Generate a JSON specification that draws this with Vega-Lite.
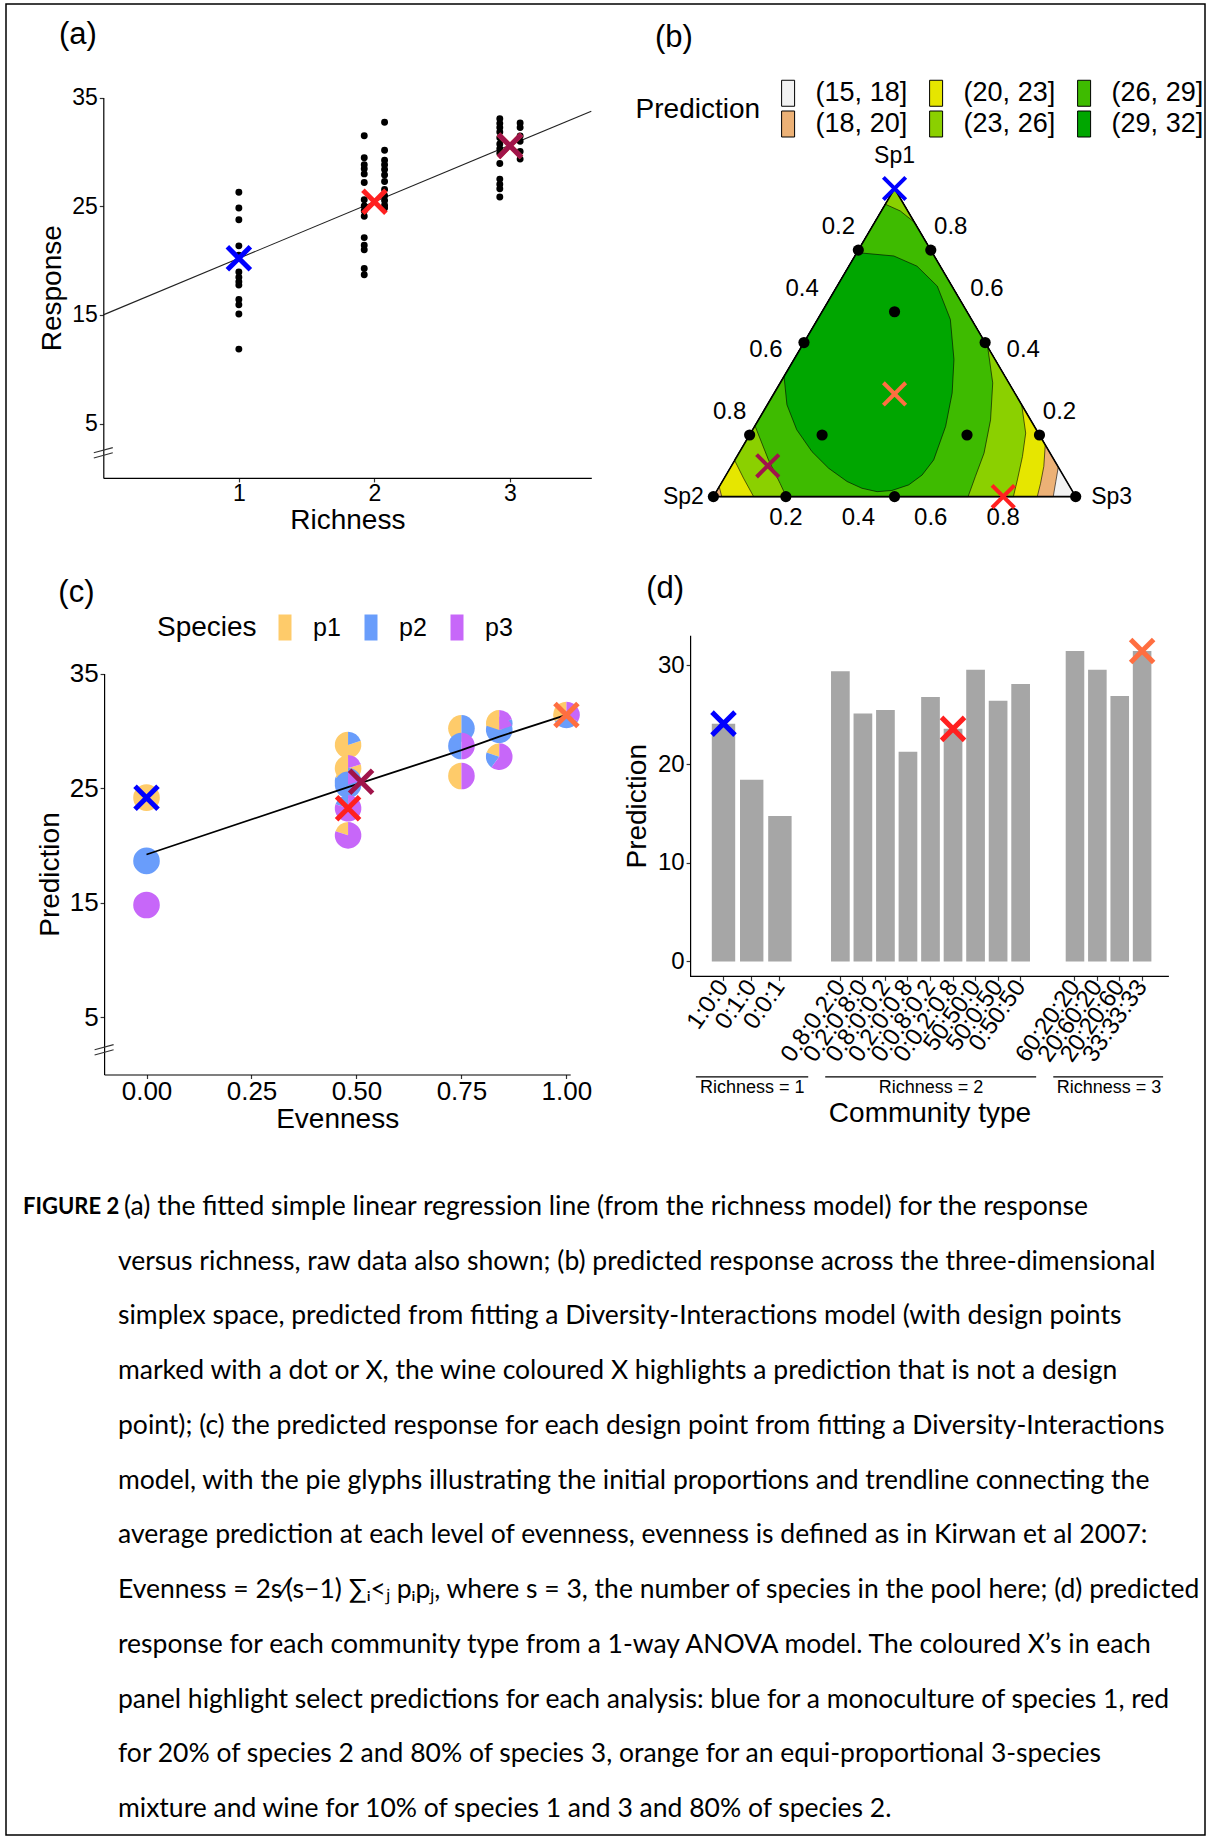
{
"$schema": "https://vega.github.io/schema/vega-lite/v6.json",
"width": 1199,
"height": 1831,
"autosize": {"type": "none"},
"padding": {"left": 6, "top": 4, "right": 4, "bottom": 3},
"background": "white",
"config": {
  "view": {"stroke": "black", "strokeWidth": 1.5},
  "font": "Liberation Sans",
  "axis": {"grid": false, "labelFont": "Liberation Sans", "titleFont": "Liberation Sans", "labelColor": "black", "titleColor": "black", "titleFontWeight": "normal", "domainColor": "black", "tickColor": "#333333", "domainWidth": 1.2, "tickWidth": 1.2, "tickSize": 4, "labelPadding": 2, "titleFontSize": 28},
  "legend": {"labelFont": "Liberation Sans", "titleFont": "Liberation Sans", "titleFontWeight": "normal", "labelColor": "black", "titleColor": "black", "padding": 0}
},
"datasets": {
  "rawA": [
    {"richness_jittered": 1, "response": 26.29}, {"richness_jittered": 1, "response": 24.83}, {"richness_jittered": 1, "response": 23.76}, {"richness_jittered": 1, "response": 21.35}, {"richness_jittered": 1, "response": 20.5}, {"richness_jittered": 1, "response": 18.94}, {"richness_jittered": 1, "response": 18.47}, {"richness_jittered": 1, "response": 18.05}, {"richness_jittered": 1, "response": 17.74}, {"richness_jittered": 1, "response": 16.41}, {"richness_jittered": 1, "response": 15.93}, {"richness_jittered": 1, "response": 15.08}, {"richness_jittered": 1, "response": 11.85},
    {"richness_jittered": 1.925, "response": 31.48}, {"richness_jittered": 1.925, "response": 29.46}, {"richness_jittered": 1.925, "response": 28.82}, {"richness_jittered": 1.925, "response": 28.44}, {"richness_jittered": 1.925, "response": 27.97}, {"richness_jittered": 1.925, "response": 27.18}, {"richness_jittered": 1.925, "response": 25.59}, {"richness_jittered": 1.925, "response": 25.02}, {"richness_jittered": 1.925, "response": 24.58}, {"richness_jittered": 1.925, "response": 24.07}, {"richness_jittered": 1.925, "response": 22.11}, {"richness_jittered": 1.925, "response": 21.41}, {"richness_jittered": 1.925, "response": 21.0}, {"richness_jittered": 1.925, "response": 19.26}, {"richness_jittered": 1.925, "response": 18.69},
    {"richness_jittered": 2.075, "response": 32.72}, {"richness_jittered": 2.075, "response": 30.15}, {"richness_jittered": 2.075, "response": 29.23}, {"richness_jittered": 2.075, "response": 28.82}, {"richness_jittered": 2.075, "response": 28.38}, {"richness_jittered": 2.075, "response": 27.87}, {"richness_jittered": 2.075, "response": 27.27}, {"richness_jittered": 2.075, "response": 26.54}, {"richness_jittered": 2.075, "response": 25.97}, {"richness_jittered": 2.075, "response": 25.53}, {"richness_jittered": 2.075, "response": 25.09}, {"richness_jittered": 2.075, "response": 24.83},
    {"richness_jittered": 2.925, "response": 33.04}, {"richness_jittered": 2.925, "response": 32.62}, {"richness_jittered": 2.925, "response": 32.24}, {"richness_jittered": 2.925, "response": 31.83}, {"richness_jittered": 2.925, "response": 31.29}, {"richness_jittered": 2.925, "response": 30.72}, {"richness_jittered": 2.925, "response": 30.28}, {"richness_jittered": 2.925, "response": 29.87}, {"richness_jittered": 2.925, "response": 28.92}, {"richness_jittered": 2.925, "response": 27.49}, {"richness_jittered": 2.925, "response": 27.02}, {"richness_jittered": 2.925, "response": 26.61}, {"richness_jittered": 2.925, "response": 25.85},
    {"richness_jittered": 3.075, "response": 32.66}, {"richness_jittered": 3.075, "response": 32.24}, {"richness_jittered": 3.075, "response": 31.45}, {"richness_jittered": 3.075, "response": 30.98}, {"richness_jittered": 3.075, "response": 30.03}, {"richness_jittered": 3.075, "response": 29.33}
  ],
  "fitA": [{"richness": 0, "fitted": 15.0}, {"richness": 3.6, "fitted": 33.74}],
  "highlightA": [
    {"richness": 1, "prediction": 20.2, "highlight": "Sp1 monoculture"},
    {"richness": 2, "prediction": 25.4, "highlight": "0:0.2:0.8"},
    {"richness": 3, "prediction": 30.55, "highlight": "33:33:33"},
    {"richness": 3, "prediction": 30.55, "highlight": "0.1:0.8:0.1"}
  ],
  "contours": [
    {"band": "(15, 18]", "x": 0, "y": 0}, {"band": "(15, 18]", "x": 1, "y": 0}, {"band": "(15, 18]", "x": 0.5, "y": 1}, {"band": "(15, 18]", "x": 0, "y": 0},
    {"band": "(18, 20]", "x": 0, "y": 0}, {"band": "(18, 20]", "x": 0.938, "y": 0}, {"band": "(18, 20]", "x": 0.945, "y": 0.048}, {"band": "(18, 20]", "x": 0.952, "y": 0.096}, {"band": "(18, 20]", "x": 0.5, "y": 1}, {"band": "(18, 20]", "x": 0, "y": 0},
    {"band": "(20, 23]", "x": 0.023, "y": 0}, {"band": "(20, 23]", "x": 0.894, "y": 0}, {"band": "(20, 23]", "x": 0.903, "y": 0.043}, {"band": "(20, 23]", "x": 0.912, "y": 0.098}, {"band": "(20, 23]", "x": 0.916, "y": 0.168}, {"band": "(20, 23]", "x": 0.5, "y": 1}, {"band": "(20, 23]", "x": 0.016, "y": 0.032}, {"band": "(20, 23]", "x": 0.023, "y": 0},
    {"band": "(23, 26]", "x": 0.111, "y": 0}, {"band": "(23, 26]", "x": 0.828, "y": 0}, {"band": "(23, 26]", "x": 0.839, "y": 0.054}, {"band": "(23, 26]", "x": 0.853, "y": 0.13}, {"band": "(23, 26]", "x": 0.862, "y": 0.206}, {"band": "(23, 26]", "x": 0.851, "y": 0.298}, {"band": "(23, 26]", "x": 0.5, "y": 1}, {"band": "(23, 26]", "x": 0.058, "y": 0.119}, {"band": "(23, 26]", "x": 0.083, "y": 0.06}, {"band": "(23, 26]", "x": 0.111, "y": 0},
    {"band": "(26, 29]", "x": 0.201, "y": 0}, {"band": "(26, 29]", "x": 0.703, "y": 0}, {"band": "(26, 29]", "x": 0.723, "y": 0.065}, {"band": "(26, 29]", "x": 0.747, "y": 0.141}, {"band": "(26, 29]", "x": 0.765, "y": 0.249}, {"band": "(26, 29]", "x": 0.771, "y": 0.369}, {"band": "(26, 29]", "x": 0.757, "y": 0.486}, {"band": "(26, 29]", "x": 0.556, "y": 0.889}, {"band": "(26, 29]", "x": 0.516, "y": 0.927}, {"band": "(26, 29]", "x": 0.4745, "y": 0.949}, {"band": "(26, 29]", "x": 0.115, "y": 0.229}, {"band": "(26, 29]", "x": 0.152, "y": 0.119}, {"band": "(26, 29]", "x": 0.184, "y": 0.043}, {"band": "(26, 29]", "x": 0.201, "y": 0},
    {"band": "(29, 32]", "x": 0.396, "y": 0.792}, {"band": "(29, 32]", "x": 0.498, "y": 0.781}, {"band": "(29, 32]", "x": 0.562, "y": 0.748}, {"band": "(29, 32]", "x": 0.618, "y": 0.683}, {"band": "(29, 32]", "x": 0.654, "y": 0.575}, {"band": "(29, 32]", "x": 0.664, "y": 0.445}, {"band": "(29, 32]", "x": 0.659, "y": 0.336}, {"band": "(29, 32]", "x": 0.641, "y": 0.228}, {"band": "(29, 32]", "x": 0.608, "y": 0.119}, {"band": "(29, 32]", "x": 0.576, "y": 0.07}, {"band": "(29, 32]", "x": 0.539, "y": 0.038}, {"band": "(29, 32]", "x": 0.493, "y": 0.02}, {"band": "(29, 32]", "x": 0.452, "y": 0.016}, {"band": "(29, 32]", "x": 0.41, "y": 0.027}, {"band": "(29, 32]", "x": 0.369, "y": 0.049}, {"band": "(29, 32]", "x": 0.318, "y": 0.092}, {"band": "(29, 32]", "x": 0.272, "y": 0.146}, {"band": "(29, 32]", "x": 0.23, "y": 0.217}, {"band": "(29, 32]", "x": 0.203, "y": 0.298}, {"band": "(29, 32]", "x": 0.195, "y": 0.39}, {"band": "(29, 32]", "x": 0.396, "y": 0.792}
  ],
  "simplex": [{"x": 0, "y": 0}, {"x": 1, "y": 0}, {"x": 0.5, "y": 1}, {"x": 0, "y": 0}],
  "designB": [
    {"x": 0, "y": 0}, {"x": 1, "y": 0}, {"x": 0.4, "y": 0.8}, {"x": 0.25, "y": 0.5}, {"x": 0.1, "y": 0.2}, {"x": 0.6, "y": 0.8}, {"x": 0.75, "y": 0.5}, {"x": 0.9, "y": 0.2}, {"x": 0.2, "y": 0}, {"x": 0.5, "y": 0}, {"x": 0.5, "y": 0.6}, {"x": 0.3, "y": 0.2}, {"x": 0.7, "y": 0.2}
  ],
  "ternLabels": [
    {"edge": "left", "x": 0.4, "y": 0.8, "label": "0.2"}, {"edge": "left", "x": 0.3, "y": 0.6, "label": "0.4"}, {"edge": "left", "x": 0.2, "y": 0.4, "label": "0.6"}, {"edge": "left", "x": 0.1, "y": 0.2, "label": "0.8"},
    {"edge": "right", "x": 0.6, "y": 0.8, "label": "0.8"}, {"edge": "right", "x": 0.7, "y": 0.6, "label": "0.6"}, {"edge": "right", "x": 0.8, "y": 0.4, "label": "0.4"}, {"edge": "right", "x": 0.9, "y": 0.2, "label": "0.2"},
    {"edge": "base", "x": 0.2, "y": 0, "label": "0.2"}, {"edge": "base", "x": 0.4, "y": 0, "label": "0.4"}, {"edge": "base", "x": 0.6, "y": 0, "label": "0.6"}, {"edge": "base", "x": 0.8, "y": 0, "label": "0.8"}
  ],
  "vertexLabels": [{"vertex": "Sp1", "x": 0.5, "y": 1}, {"vertex": "Sp2", "x": 0, "y": 0}, {"vertex": "Sp3", "x": 1, "y": 0}],
  "highlightB": [
    {"x": 0.5, "y": 1, "highlight": "Sp1 monoculture"},
    {"x": 0.8, "y": 0, "highlight": "0:0.2:0.8"},
    {"x": 0.5, "y": 0.3333, "highlight": "33:33:33"},
    {"x": 0.15, "y": 0.1, "highlight": "0.1:0.8:0.1"}
  ],
  "slicesC": [
    {"pie": "1:0:0", "evenness": 0, "prediction": 24.17, "species": "p1", "share": 1},
    {"pie": "0:1:0", "evenness": 0, "prediction": 18.65, "species": "p2", "share": 1},
    {"pie": "0:0:1", "evenness": 0, "prediction": 14.8, "species": "p3", "share": 1},
    {"pie": "0.8:0.2:0", "evenness": 0.48, "prediction": 28.77, "species": "p1", "share": 0.8},
    {"pie": "0.8:0.2:0", "evenness": 0.48, "prediction": 28.77, "species": "p2", "share": 0.2},
    {"pie": "0.8:0:0.2", "evenness": 0.48, "prediction": 26.73, "species": "p1", "share": 0.8},
    {"pie": "0.8:0:0.2", "evenness": 0.48, "prediction": 26.73, "species": "p3", "share": 0.2},
    {"pie": "0.2:0.8:0", "evenness": 0.48, "prediction": 25.6, "species": "p1", "share": 0.2},
    {"pie": "0.2:0.8:0", "evenness": 0.48, "prediction": 25.6, "species": "p2", "share": 0.8},
    {"pie": "0:0.8:0.2", "evenness": 0.48, "prediction": 25.3, "species": "p2", "share": 0.8},
    {"pie": "0:0.8:0.2", "evenness": 0.48, "prediction": 25.3, "species": "p3", "share": 0.2},
    {"pie": "0:0.2:0.8", "evenness": 0.48, "prediction": 23.24, "species": "p2", "share": 0.2},
    {"pie": "0:0.2:0.8", "evenness": 0.48, "prediction": 23.24, "species": "p3", "share": 0.8},
    {"pie": "0.2:0:0.8", "evenness": 0.48, "prediction": 20.88, "species": "p1", "share": 0.2},
    {"pie": "0.2:0:0.8", "evenness": 0.48, "prediction": 20.88, "species": "p3", "share": 0.8},
    {"pie": "50:50:0", "evenness": 0.75, "prediction": 30.22, "species": "p1", "share": 0.5},
    {"pie": "50:50:0", "evenness": 0.75, "prediction": 30.22, "species": "p2", "share": 0.5},
    {"pie": "0:50:50", "evenness": 0.75, "prediction": 28.68, "species": "p2", "share": 0.5},
    {"pie": "0:50:50", "evenness": 0.75, "prediction": 28.68, "species": "p3", "share": 0.5},
    {"pie": "50:0:50", "evenness": 0.75, "prediction": 26.06, "species": "p1", "share": 0.5},
    {"pie": "50:0:50", "evenness": 0.75, "prediction": 26.06, "species": "p3", "share": 0.5},
    {"pie": "60:20:20", "evenness": 0.84, "prediction": 30.66, "species": "p1", "share": 0.6},
    {"pie": "60:20:20", "evenness": 0.84, "prediction": 30.66, "species": "p2", "share": 0.2},
    {"pie": "60:20:20", "evenness": 0.84, "prediction": 30.66, "species": "p3", "share": 0.2},
    {"pie": "20:60:20", "evenness": 0.84, "prediction": 30.08, "species": "p1", "share": 0.2},
    {"pie": "20:60:20", "evenness": 0.84, "prediction": 30.08, "species": "p2", "share": 0.6},
    {"pie": "20:60:20", "evenness": 0.84, "prediction": 30.08, "species": "p3", "share": 0.2},
    {"pie": "20:20:60", "evenness": 0.84, "prediction": 27.75, "species": "p1", "share": 0.2},
    {"pie": "20:20:60", "evenness": 0.84, "prediction": 27.75, "species": "p2", "share": 0.2},
    {"pie": "20:20:60", "evenness": 0.84, "prediction": 27.75, "species": "p3", "share": 0.6},
    {"pie": "33:33:33", "evenness": 1, "prediction": 31.39, "species": "p1", "share": 0.3333},
    {"pie": "33:33:33", "evenness": 1, "prediction": 31.39, "species": "p2", "share": 0.3333},
    {"pie": "33:33:33", "evenness": 1, "prediction": 31.39, "species": "p3", "share": 0.3334}
  ],
  "highlightC": [
    {"evenness": 0, "prediction": 24.17, "highlight": "Sp1 monoculture"},
    {"evenness": 0.48, "prediction": 23.24, "highlight": "0:0.2:0.8"},
    {"evenness": 1, "prediction": 31.39, "highlight": "33:33:33"},
    {"evenness": 0.511, "prediction": 25.56, "highlight": "0.1:0.8:0.1"}
  ],
  "barsD": [
    {"richness": 1, "community": "1:0:0", "prediction": 24.09, "highlight": "Sp1 monoculture"},
    {"richness": 1, "community": "0:1:0", "prediction": 18.41, "highlight": null},
    {"richness": 1, "community": "0:0:1", "prediction": 14.72, "highlight": null},
    {"richness": 2, "community": "0.8:0.2:0", "prediction": 29.39, "highlight": null},
    {"richness": 2, "community": "0.2:0.8:0", "prediction": 25.12, "highlight": null},
    {"richness": 2, "community": "0.8:0:0.2", "prediction": 25.47, "highlight": null},
    {"richness": 2, "community": "0.2:0:0.8", "prediction": 21.24, "highlight": null},
    {"richness": 2, "community": "0:0.8:0.2", "prediction": 26.8, "highlight": null},
    {"richness": 2, "community": "0:0.2:0.8", "prediction": 23.56, "highlight": "0:0.2:0.8"},
    {"richness": 2, "community": "50:50:0", "prediction": 29.55, "highlight": null},
    {"richness": 2, "community": "50:0:50", "prediction": 26.42, "highlight": null},
    {"richness": 2, "community": "0:50:50", "prediction": 28.1, "highlight": null},
    {"richness": 3, "community": "60:20:20", "prediction": 31.45, "highlight": null},
    {"richness": 3, "community": "20:60:20", "prediction": 29.55, "highlight": null},
    {"richness": 3, "community": "20:20:60", "prediction": 26.88, "highlight": null},
    {"richness": 3, "community": "33:33:33", "prediction": 31.45, "highlight": "33:33:33"}
  ],
  "groupsD": [
    {"richness": 1, "first": "1:0:0", "last": "0:0:1"},
    {"richness": 2, "first": "0.8:0.2:0", "last": "0:50:50"},
    {"richness": 3, "first": "60:20:20", "last": "33:33:33"}
  ],
  "caption": [
    {"line": 1, "part": "label", "text": "FIGURE 2"},
    {"line": 1, "part": "body", "text": "(a) the fitted simple linear regression line (from the richness model) for the response"},
    {"line": 2, "part": "body", "text": "versus richness, raw data also shown; (b) predicted response across the three-dimensional"},
    {"line": 3, "part": "body", "text": "simplex space, predicted from fitting a Diversity-Interactions model (with design points"},
    {"line": 4, "part": "body", "text": "marked with a dot or X, the wine coloured X highlights a prediction that is not a design"},
    {"line": 5, "part": "body", "text": "point); (c) the predicted response for each design point from fitting a Diversity-Interactions"},
    {"line": 6, "part": "body", "text": "model, with the pie glyphs illustrating the initial proportions and trendline connecting the"},
    {"line": 7, "part": "body", "text": "average prediction at each level of evenness, evenness is defined as in Kirwan et al 2007:"},
    {"line": 8, "part": "body", "text": "Evenness = 2s⁄(s−1) ∑ᵢ<ⱼ pᵢpⱼ, where s = 3, the number of species in the pool here;  (d) predicted"},
    {"line": 9, "part": "body", "text": "response for each community type from a 1-way ANOVA model. The coloured X’s in each"},
    {"line": 10, "part": "body", "text": "panel highlight select predictions for each analysis: blue for a monoculture of species 1, red"},
    {"line": 11, "part": "body", "text": "for 20% of species 2 and 80% of species 3, orange for an equi-proportional 3-species"},
    {"line": 12, "part": "body", "text": "mixture and wine for 10% of species 1 and 3 and 80% of species 2."}
  ]
},
"layer": [
  {
    "layer": [
      {
        "data": {"name": "fitA"},
        "mark": {"type": "line", "color": "#222222", "strokeWidth": 1.1},
        "encoding": {
          "x": {"field": "richness", "type": "quantitative", "scale": {"domain": [0, 3.6], "range": [97.3, 585.3], "nice": false, "zero": false}, "axis": {"orient": "bottom", "offset": -1357.1, "values": [1, 2, 3], "format": "d", "title": "Richness", "labelFontSize": 23, "labelPadding": 1, "titlePadding": 1}},
          "y": {"field": "fitted", "type": "quantitative", "scale": {"domain": [0, 35], "range": [473.9, 93.5], "nice": false, "zero": false}, "axis": {"orient": "left", "offset": -97.3, "values": [5, 15, 25, 35], "title": "Response", "labelFontSize": 23, "titlePadding": 5}}
        }
      },
      {
        "data": {"name": "rawA"},
        "mark": {"type": "circle", "size": 48, "color": "black", "opacity": 1},
        "encoding": {
          "x": {"field": "richness_jittered", "type": "quantitative"},
          "y": {"field": "response", "type": "quantitative"}
        }
      },
      {
        "data": {"name": "highlightA"},
        "mark": {"type": "point", "shape": "M-1,-1L1,1M1,-1L-1,1", "size": 529, "filled": false, "strokeWidth": 5, "opacity": 1},
        "encoding": {
          "x": {"field": "richness", "type": "quantitative"},
          "y": {"field": "prediction", "type": "quantitative"},
          "stroke": {"field": "highlight", "type": "nominal", "scale": {"domain": ["Sp1 monoculture", "0:0.2:0.8", "33:33:33", "0.1:0.8:0.1"], "range": ["#0000FF", "#FF2020", "#FF6E40", "#A0144A"]}, "legend": null}
        }
      },
      {
        "data": {"values": [{}]},
        "mark": {"type": "point", "shape": "M-1,0L1,-0.54M-1,0.55L1,0", "size": 361, "filled": false, "stroke": "#333333", "strokeWidth": 1.2, "opacity": 1},
        "encoding": {"x": {"datum": 0}, "y": {"datum": 2.31}}
      },
      {
        "data": {"values": [{}]},
        "mark": {"type": "text", "text": "(a)", "fontSize": 31, "font": "Liberation Sans", "align": "center", "baseline": "middle"},
        "encoding": {"x": {"datum": -0.187}, "y": {"datum": 40.75}}
      }
    ]
  },
  {
    "layer": [
      {
        "data": {"name": "contours"},
        "transform": [{"filter": "datum.band === '(15, 18]'"}],
        "mark": {"type": "line", "filled": true, "stroke": "black", "strokeWidth": 0.6},
        "encoding": {
          "x": {"field": "x", "type": "quantitative", "scale": {"domain": [0, 1], "range": [707.4, 1069.7], "nice": false, "zero": false}, "axis": null},
          "y": {"field": "y", "type": "quantitative", "scale": {"domain": [0, 1], "range": [492.6, 184.5], "nice": false, "zero": false}, "axis": null},
          "color": {"field": "band", "type": "nominal", "scale": {"domain": ["(15, 18]", "(18, 20]", "(20, 23]", "(23, 26]", "(26, 29]", "(29, 32]"], "range": ["#F2F2F2", "#ECB176", "#E6E600", "#8BD000", "#3EBB00", "#00A600"]},
            "legend": {"orient": "none", "legendX": 629.6, "legendY": 75.5, "columns": 3, "title": "Prediction", "titleOrient": "left", "titleAnchor": "middle", "titleFontSize": 28, "titlePadding": 14, "labelFontSize": 27, "labelOffset": 14, "columnPadding": 15, "rowPadding": 0, "symbolType": "M-0.5,-1H0.5V1H-0.5Z", "symbolSize": 676, "symbolStrokeColor": "black", "symbolStrokeWidth": 1}},
          "order": {"value": null}
        }
      },
      {
        "data": {"name": "contours"},
        "transform": [{"filter": "datum.band === '(18, 20]'"}],
        "mark": {"type": "line", "filled": true, "stroke": "black", "strokeWidth": 0.6},
        "encoding": {"x": {"field": "x", "type": "quantitative"}, "y": {"field": "y", "type": "quantitative"}, "color": {"field": "band", "type": "nominal"}, "order": {"value": null}}
      },
      {
        "data": {"name": "contours"},
        "transform": [{"filter": "datum.band === '(20, 23]'"}],
        "mark": {"type": "line", "filled": true, "stroke": "black", "strokeWidth": 0.6},
        "encoding": {"x": {"field": "x", "type": "quantitative"}, "y": {"field": "y", "type": "quantitative"}, "color": {"field": "band", "type": "nominal"}, "order": {"value": null}}
      },
      {
        "data": {"name": "contours"},
        "transform": [{"filter": "datum.band === '(23, 26]'"}],
        "mark": {"type": "line", "filled": true, "stroke": "black", "strokeWidth": 0.6},
        "encoding": {"x": {"field": "x", "type": "quantitative"}, "y": {"field": "y", "type": "quantitative"}, "color": {"field": "band", "type": "nominal"}, "order": {"value": null}}
      },
      {
        "data": {"name": "contours"},
        "transform": [{"filter": "datum.band === '(26, 29]'"}],
        "mark": {"type": "line", "filled": true, "stroke": "black", "strokeWidth": 0.6},
        "encoding": {"x": {"field": "x", "type": "quantitative"}, "y": {"field": "y", "type": "quantitative"}, "color": {"field": "band", "type": "nominal"}, "order": {"value": null}}
      },
      {
        "data": {"name": "contours"},
        "transform": [{"filter": "datum.band === '(29, 32]'"}],
        "mark": {"type": "line", "filled": true, "stroke": "black", "strokeWidth": 0.6},
        "encoding": {"x": {"field": "x", "type": "quantitative"}, "y": {"field": "y", "type": "quantitative"}, "color": {"field": "band", "type": "nominal"}, "order": {"value": null}}
      },
      {
        "data": {"name": "simplex"},
        "mark": {"type": "line", "color": "black", "strokeWidth": 1.6},
        "encoding": {"x": {"field": "x", "type": "quantitative"}, "y": {"field": "y", "type": "quantitative"}, "order": {"value": null}}
      },
      {
        "data": {"name": "designB"},
        "mark": {"type": "circle", "size": 125, "color": "black", "opacity": 1},
        "encoding": {"x": {"field": "x", "type": "quantitative"}, "y": {"field": "y", "type": "quantitative"}}
      },
      {
        "data": {"name": "ternLabels"},
        "transform": [{"filter": "datum.edge === 'left'"}],
        "mark": {"type": "text", "fontSize": 24, "align": "center", "baseline": "middle", "dx": -20, "dy": -23},
        "encoding": {"x": {"field": "x", "type": "quantitative"}, "y": {"field": "y", "type": "quantitative"}, "text": {"field": "label"}}
      },
      {
        "data": {"name": "ternLabels"},
        "transform": [{"filter": "datum.edge === 'right'"}],
        "mark": {"type": "text", "fontSize": 24, "align": "center", "baseline": "middle", "dx": 20, "dy": -23},
        "encoding": {"x": {"field": "x", "type": "quantitative"}, "y": {"field": "y", "type": "quantitative"}, "text": {"field": "label"}}
      },
      {
        "data": {"name": "ternLabels"},
        "transform": [{"filter": "datum.edge === 'base'"}],
        "mark": {"type": "text", "fontSize": 24, "align": "center", "baseline": "middle", "dy": 21},
        "encoding": {"x": {"field": "x", "type": "quantitative"}, "y": {"field": "y", "type": "quantitative"}, "text": {"field": "label"}}
      },
      {
        "data": {"name": "vertexLabels"},
        "transform": [{"filter": "datum.vertex === 'Sp1'"}],
        "mark": {"type": "text", "fontSize": 23, "align": "center", "baseline": "middle", "dy": -33},
        "encoding": {"x": {"field": "x", "type": "quantitative"}, "y": {"field": "y", "type": "quantitative"}, "text": {"field": "vertex"}}
      },
      {
        "data": {"name": "vertexLabels"},
        "transform": [{"filter": "datum.vertex === 'Sp2'"}],
        "mark": {"type": "text", "fontSize": 23, "align": "center", "baseline": "middle", "dx": -30},
        "encoding": {"x": {"field": "x", "type": "quantitative"}, "y": {"field": "y", "type": "quantitative"}, "text": {"field": "vertex"}}
      },
      {
        "data": {"name": "vertexLabels"},
        "transform": [{"filter": "datum.vertex === 'Sp3'"}],
        "mark": {"type": "text", "fontSize": 23, "align": "center", "baseline": "middle", "dx": 36},
        "encoding": {"x": {"field": "x", "type": "quantitative"}, "y": {"field": "y", "type": "quantitative"}, "text": {"field": "vertex"}}
      },
      {
        "data": {"name": "highlightB"},
        "mark": {"type": "point", "shape": "M-1,-1L1,1M1,-1L-1,1", "size": 500, "filled": false, "strokeWidth": 4, "opacity": 1},
        "encoding": {"x": {"field": "x", "type": "quantitative"}, "y": {"field": "y", "type": "quantitative"}, "stroke": {"field": "highlight", "type": "nominal", "legend": null}}
      },
      {
        "data": {"values": [{}]},
        "mark": {"type": "text", "text": "(b)", "fontSize": 31, "align": "center", "baseline": "middle"},
        "encoding": {"x": {"datum": -0.109}, "y": {"datum": 1.489}}
      }
    ]
  },
  {
    "layer": [
      {
        "data": {"name": "slicesC"},
        "transform": [{"stack": "share", "groupby": ["pie"], "sort": [{"field": "species", "order": "descending"}], "offset": "normalize", "as": ["t0", "t1"]}],
        "mark": {"type": "arc", "outerRadius": 13.3, "innerRadius": 0},
        "encoding": {
          "x": {"field": "evenness", "type": "quantitative", "scale": {"domain": [-0.101, 1.009], "range": [98.1, 564.2], "nice": false, "zero": false}, "axis": {"orient": "bottom", "offset": -760.5, "values": [0, 0.25, 0.5, 0.75, 1], "format": ".2f", "title": "Evenness", "labelFontSize": 26, "labelPadding": 0, "titlePadding": 1}},
          "y": {"field": "prediction", "type": "quantitative", "scale": {"domain": [0, 35], "range": [1070.5, 669.6], "nice": false, "zero": false}, "axis": {"orient": "left", "offset": -98.1, "values": [5, 15, 25, 35], "title": "Prediction", "labelFontSize": 26, "titlePadding": 5}},
          "theta": {"field": "t0", "type": "quantitative", "scale": {"domain": [0, 1], "range": [0, 6.283185]}, "stack": null},
          "theta2": {"field": "t1"},
          "color": {"field": "species", "type": "nominal", "scale": {"domain": ["p1", "p2", "p3"], "range": ["#FECB6A", "#699DFB", "#C767F9"]},
            "legend": {"orient": "none", "legendX": 151, "legendY": 610.5, "direction": "horizontal", "title": "Species", "titleOrient": "left", "titleAnchor": "middle", "titleFontSize": 28, "titlePadding": 15, "labelFontSize": 25, "labelOffset": 15, "columnPadding": 17, "symbolType": "M-0.5,-1H0.5V1H-0.5Z", "symbolSize": 676, "symbolStrokeWidth": 0}}
        }
      },
      {
        "data": {"name": "slicesC"},
        "transform": [
          {"aggregate": [{"op": "mean", "field": "prediction", "as": "pie_prediction"}], "groupby": ["pie", "evenness"]},
          {"aggregate": [{"op": "mean", "field": "pie_prediction", "as": "average_prediction"}], "groupby": ["evenness"]}
        ],
        "mark": {"type": "line", "color": "black", "strokeWidth": 1.8},
        "encoding": {"x": {"field": "evenness", "type": "quantitative"}, "y": {"field": "average_prediction", "type": "quantitative"}}
      },
      {
        "data": {"name": "highlightC"},
        "mark": {"type": "point", "shape": "M-1,-1L1,1M1,-1L-1,1", "size": 529, "filled": false, "strokeWidth": 5, "opacity": 1},
        "encoding": {"x": {"field": "evenness", "type": "quantitative"}, "y": {"field": "prediction", "type": "quantitative"}, "stroke": {"field": "highlight", "type": "nominal", "legend": null}}
      },
      {
        "data": {"values": [{}]},
        "mark": {"type": "point", "shape": "M-1,0L1,-0.54M-1,0.55L1,0", "size": 361, "filled": false, "stroke": "#333333", "strokeWidth": 1.2, "opacity": 1},
        "encoding": {"x": {"datum": -0.101}, "y": {"datum": 2.16}}
      },
      {
        "data": {"values": [{}]},
        "mark": {"type": "text", "text": "(c)", "fontSize": 31, "align": "center", "baseline": "middle"},
        "encoding": {"x": {"datum": -0.167}, "y": {"datum": 42.06}}
      }
    ]
  },
  {
    "resolve": {"scale": {"x": "independent"}, "axis": {"x": "independent"}},
    "layer": [
      {
        "data": {"values": [{}]},
        "layer": [
          {
            "mark": {"type": "rule", "color": "black", "strokeWidth": 1.2},
            "encoding": {
              "x": {"datum": 0, "type": "quantitative", "scale": {"domain": [0, 1], "range": [684.1, 1162.9], "nice": false, "zero": false}, "axis": {"orient": "bottom", "offset": -858.6, "domain": false, "ticks": false, "labels": false, "title": "Community type", "titleY": 137.3, "titleBaseline": "middle"}},
              "x2": {"datum": 1},
              "y": {"datum": -1.52, "type": "quantitative", "scale": {"domain": [-1.52, 33.05], "range": [972.4, 631.2], "nice": false, "zero": false}, "axis": {"orient": "left", "offset": -684.1, "values": [0, 10, 20, 30], "title": "Prediction", "labelFontSize": 24, "titlePadding": 6}}
            }
          },
          {
            "mark": {"type": "text", "text": "(d)", "fontSize": 31, "align": "center", "baseline": "middle"},
            "encoding": {"x": {"datum": -0.052}, "y": {"datum": 37.74}}
          }
        ]
      },
      {
        "layer": [
          {
            "data": {"name": "barsD"},
            "transform": [{"filter": "datum.richness === 1"}],
            "mark": {"type": "bar", "color": "#A6A6A6"},
            "encoding": {
              "x": {"field": "community", "type": "nominal", "sort": null, "scale": {"type": "band", "domain": ["1:0:0", "0:1:0", "0:0:1"], "range": [703.4, 788.0], "paddingInner": 0.17, "paddingOuter": 0.085}, "axis": {"orient": "bottom", "offset": -858.6, "domain": false, "labelAngle": -55, "labelAlign": "right", "labelBaseline": "middle", "labelFontSize": 24, "title": "Richness = 1", "titleFontSize": 18, "titleY": 111, "titleBaseline": "middle"}},
              "y": {"field": "prediction", "type": "quantitative"}
            }
          },
          {
            "data": {"name": "groupsD"},
            "transform": [{"filter": "datum.richness === 1"}],
            "mark": {"type": "rule", "color": "black", "strokeWidth": 1.3},
            "encoding": {"x": {"field": "first", "type": "nominal", "bandPosition": -0.68}, "x2": {"field": "last", "bandPosition": 1.71}, "y": {"datum": -11.7}}
          },
          {
            "data": {"name": "barsD"},
            "transform": [{"filter": "datum.richness === 1 && datum.highlight != null"}],
            "mark": {"type": "point", "shape": "M-1,-1L1,1M1,-1L-1,1", "size": 529, "filled": false, "strokeWidth": 5, "opacity": 1},
            "encoding": {"x": {"field": "community", "type": "nominal"}, "y": {"field": "prediction", "type": "quantitative"}, "stroke": {"field": "highlight", "type": "nominal", "legend": null}}
          }
        ]
      },
      {
        "layer": [
          {
            "data": {"name": "barsD"},
            "transform": [{"filter": "datum.richness === 2"}],
            "mark": {"type": "bar", "color": "#A6A6A6"},
            "encoding": {
              "x": {"field": "community", "type": "nominal", "sort": null, "scale": {"type": "band", "domain": ["0.8:0.2:0", "0.2:0.8:0", "0.8:0:0.2", "0.2:0:0.8", "0:0.8:0.2", "0:0.2:0.8", "50:50:0", "50:0:50", "0:50:50"], "range": [823.1, 1025.9], "paddingInner": 0.17, "paddingOuter": 0.085}, "axis": {"orient": "bottom", "offset": -858.6, "domain": false, "labelAngle": -55, "labelAlign": "right", "labelBaseline": "middle", "labelFontSize": 24, "title": "Richness = 2", "titleFontSize": 18, "titleY": 111, "titleBaseline": "middle"}},
              "y": {"field": "prediction", "type": "quantitative"}
            }
          },
          {
            "data": {"name": "groupsD"},
            "transform": [{"filter": "datum.richness === 2"}],
            "mark": {"type": "rule", "color": "black", "strokeWidth": 1.3},
            "encoding": {"x": {"field": "first", "type": "nominal", "bandPosition": -0.31}, "x2": {"field": "last", "bandPosition": 1.33}, "y": {"datum": -11.7}}
          },
          {
            "data": {"name": "barsD"},
            "transform": [{"filter": "datum.richness === 2 && datum.highlight != null"}],
            "mark": {"type": "point", "shape": "M-1,-1L1,1M1,-1L-1,1", "size": 529, "filled": false, "strokeWidth": 5, "opacity": 1},
            "encoding": {"x": {"field": "community", "type": "nominal"}, "y": {"field": "prediction", "type": "quantitative"}, "stroke": {"field": "highlight", "type": "nominal", "legend": null}}
          }
        ]
      },
      {
        "layer": [
          {
            "data": {"name": "barsD"},
            "transform": [{"filter": "datum.richness === 3"}],
            "mark": {"type": "bar", "color": "#A6A6A6"},
            "encoding": {
              "x": {"field": "community", "type": "nominal", "sort": null, "scale": {"type": "band", "domain": ["60:20:20", "20:60:20", "20:20:60", "33:33:33"], "range": [1057.8, 1147.3], "paddingInner": 0.17, "paddingOuter": 0.085}, "axis": {"orient": "bottom", "offset": -858.6, "domain": false, "labelAngle": -55, "labelAlign": "right", "labelBaseline": "middle", "labelFontSize": 24, "title": "Richness = 3", "titleFontSize": 18, "titleY": 111, "titleBaseline": "middle"}},
              "y": {"field": "prediction", "type": "quantitative"}
            }
          },
          {
            "data": {"name": "groupsD"},
            "transform": [{"filter": "datum.richness === 3"}],
            "mark": {"type": "rule", "color": "black", "strokeWidth": 1.3},
            "encoding": {"x": {"field": "first", "type": "nominal", "bandPosition": -0.67}, "x2": {"field": "last", "bandPosition": 1.63}, "y": {"datum": -11.7}}
          },
          {
            "data": {"name": "barsD"},
            "transform": [{"filter": "datum.richness === 3 && datum.highlight != null"}],
            "mark": {"type": "point", "shape": "M-1,-1L1,1M1,-1L-1,1", "size": 529, "filled": false, "strokeWidth": 5, "opacity": 1},
            "encoding": {"x": {"field": "community", "type": "nominal"}, "y": {"field": "prediction", "type": "quantitative"}, "stroke": {"field": "highlight", "type": "nominal", "legend": null}}
          }
        ]
      }
    ]
  },
  {
    "data": {"name": "caption"},
    "layer": [
      {
        "transform": [{"filter": "datum.part === 'label'"}],
        "mark": {"type": "text", "font": "Lato", "fontSize": 22, "fontWeight": "bold", "align": "left", "baseline": "middle"},
        "encoding": {
          "x": {"field": "part", "type": "nominal", "scale": {"type": "point", "domain": ["label", "body"], "range": [17, 112], "padding": 0}, "axis": null},
          "y": {"field": "line", "type": "ordinal", "scale": {"type": "point", "domain": [1, 2, 3, 4, 5, 6, 7, 8, 9, 10, 11, 12], "range": [1203, 1805], "padding": 0}, "axis": null},
          "text": {"field": "text"}
        }
      },
      {
        "transform": [{"filter": "datum.part === 'body' && datum.line === 1"}],
        "mark": {"type": "text", "font": "Lato", "fontSize": 26.5, "align": "left", "baseline": "middle", "dx": 6},
        "encoding": {"x": {"field": "part", "type": "nominal"}, "y": {"field": "line", "type": "ordinal"}, "text": {"field": "text"}}
      },
      {
        "transform": [{"filter": "datum.part === 'body' && datum.line > 1"}],
        "mark": {"type": "text", "font": "Lato", "fontSize": 26.5, "align": "left", "baseline": "middle"},
        "encoding": {"x": {"field": "part", "type": "nominal"}, "y": {"field": "line", "type": "ordinal"}, "text": {"field": "text"}}
      }
    ]
  }
],
"resolve": {"scale": {"x": "independent", "y": "independent", "color": "independent", "theta": "independent"}, "axis": {"x": "independent", "y": "independent"}, "legend": {"color": "independent"}}
}
